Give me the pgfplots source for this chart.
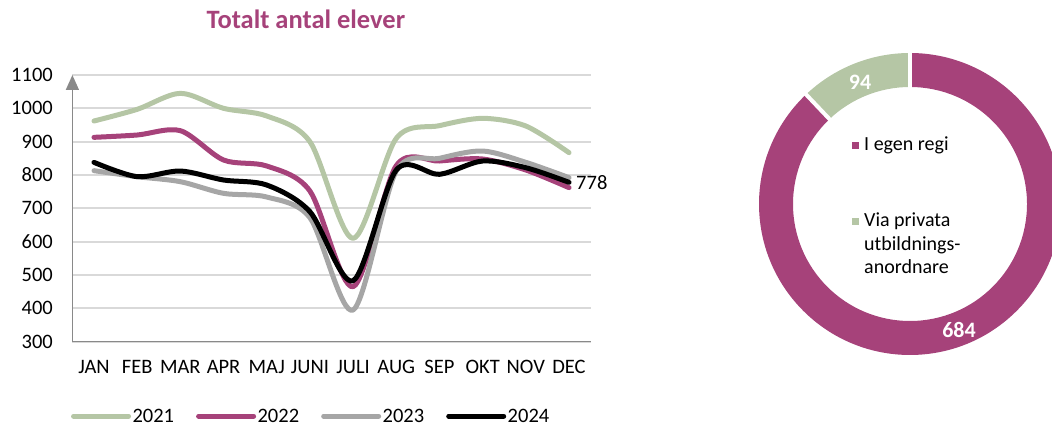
\documentclass[border=0pt]{standalone}
\usepackage{fontspec}
\setmainfont{Carlito}
\usepackage{pgfplots}
\pgfplotsset{compat=1.18}
\usetikzlibrary{arrows.meta}
\definecolor{cgreen}{RGB}{181,198,165}
\definecolor{cmag}{RGB}{166,66,122}
\definecolor{cgray}{RGB}{166,166,166}
\definecolor{caxis}{RGB}{137,137,137}
\definecolor{cgrid}{RGB}{217,217,217}
\begin{document}
\begin{tikzpicture}
\useasboundingbox (0,0) rectangle (1052pt,425pt);
\clip (0,0) rectangle (1052pt,425pt);
\begin{axis}[
 at={(72.4pt,83.3pt)}, anchor=south west,
 width=518.2pt, height=266.7pt, scale only axis,
 xmin=-0.5, xmax=11.5, ymin=300, ymax=1100,
 axis x line=bottom, axis y line=left,
 x axis line style={-, draw=caxis, line width=1.5pt},
 y axis line style={-{Triangle[width=13pt,length=15pt]}, draw=caxis, line width=1.5pt},
 xtick={0,...,11},
 xticklabels={JAN,FEB,MAR,APR,MAJ,JUNI,JULI,AUG,SEP,OKT,NOV,DEC},
 ytick={300,400,...,1100},
 ymajorgrids, major grid style={cgrid, line width=2pt},
 major tick length=0pt,
 tick label style={font=\fontsize{20.5}{24}\selectfont, text=black},
 xticklabel style={anchor=base, yshift=-32.3pt},
 yticklabel style={anchor=east, inner sep=0pt, xshift=-19.4pt},
 /pgf/number format/assume math mode=true,
 /pgf/number format/1000 sep={},
 title={Totalt antal elever},
 title style={at={(axis description cs:0.4506,1.1537)}, anchor=base, font=\fontsize{26.5}{30}\selectfont\bfseries, text=cmag, inner sep=0pt},
 legend style={at={(axis description cs:-0.003,-0.279)}, anchor=west, draw=none, fill=none, inner sep=0pt,
   font=\fontsize{20.5}{24}\selectfont, /tikz/every even column/.append style={column sep=20.5pt},
   nodes={inner sep=1.5pt}},
 legend columns=4,
 legend image code/.code={\draw[#1, line width=5pt, line cap=round] (2.5pt,0pt) -- (52.5pt,0pt); \path (0pt,0pt) -- (55pt,0pt);},
 clip=false,
 every axis plot/.append style={line width=5pt, line join=round, line cap=round, no marks, smooth},
]
\addplot[cgreen] coordinates {(0,962) (1,997) (2,1045) (3,1000) (4,977) (5,900) (6,610) (7,910) (8,948) (9,970) (10,947) (11,867)};
\addlegendentry{2021}
\addplot[cmag] coordinates {(0,913) (1,920) (2,933) (3,845) (4,827) (5,752) (6,465) (7,828) (8,842) (9,848) (10,815) (11,762)};
\addlegendentry{2022}
\addplot[cgray] coordinates {(0,813) (1,795) (2,780) (3,745) (4,734) (5,672) (6,395) (7,812) (8,850) (9,872) (10,838) (11,792)};
\addlegendentry{2023}
\addplot[black] coordinates {(0,838) (1,795) (2,812) (3,785) (4,770) (5,690) (6,483) (7,815) (8,802) (9,842) (10,822) (11,778)};
\addlegendentry{2024}
\node[anchor=west, inner sep=0pt, xshift=7pt, font=\fontsize{20.5}{24}\selectfont] at (axis cs:11,778) {778};
\end{axis}
% donut
\begin{scope}[shift={(910pt,221pt)}]
\pgfmathsetmacro{\va}{684}
\pgfmathsetmacro{\vb}{94}
\pgfmathsetmacro{\aa}{90+\vb/(\va+\vb)*360}
\fill[cgreen] (90:151pt) arc[start angle=90, end angle=\aa, radius=151pt] -- (\aa:117pt) arc[start angle=\aa, end angle=90, radius=117pt] -- cycle;
\fill[cmag] (\aa:151pt) arc[start angle=\aa, end angle=450, radius=151pt] -- (450:117pt) arc[start angle=450, end angle=\aa, radius=117pt] -- cycle;
\draw[white, line width=4pt] (90:114pt) -- (90:154pt);
\draw[white, line width=4pt] (\aa:114pt) -- (\aa:154pt);
\end{scope}
\node[text=white, font=\fontsize{22}{26}\selectfont\bfseries] at (860pt,343pt) {94};
\node[text=white, font=\fontsize{22}{26}\selectfont\bfseries] at (959pt,95pt) {684};
\fill[cmag] (851.5pt,275.5pt) rectangle (858.5pt,282.5pt);
\fill[cgreen] (851.5pt,199.5pt) rectangle (858.5pt,206.5pt);
\node[anchor=base west, inner sep=0pt, font=\fontsize{20}{24}\selectfont] at (864pt,274pt) {I egen regi};
\node[anchor=base west, inner sep=0pt, font=\fontsize{20}{24}\selectfont] at (864pt,198pt) {Via privata};
\node[anchor=base west, inner sep=0pt, font=\fontsize{20}{24}\selectfont] at (864pt,174pt) {utbildnings-};
\node[anchor=base west, inner sep=0pt, font=\fontsize{20}{24}\selectfont] at (864pt,151pt) {anordnare};
\end{tikzpicture}
\end{document}
